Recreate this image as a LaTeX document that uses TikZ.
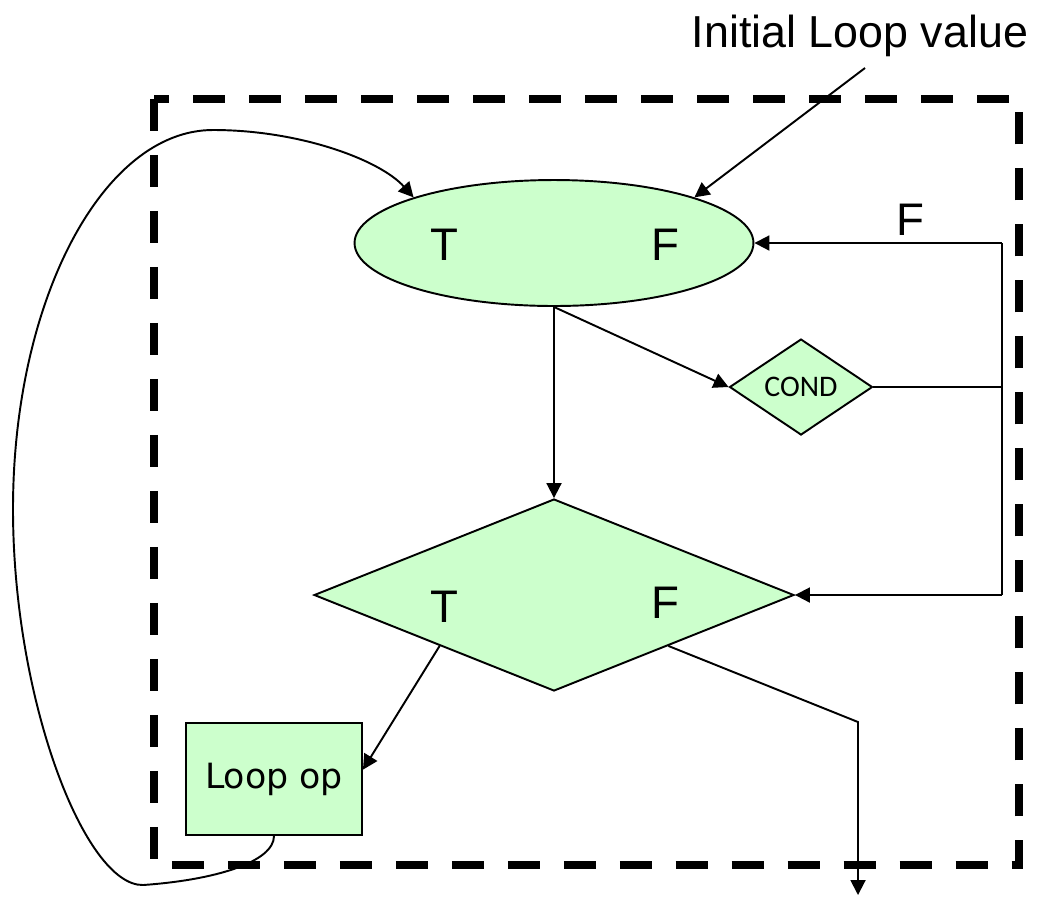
\documentclass[tikz,border=0pt]{standalone}
\usepackage{fontspec}
\setmainfont{Liberation Sans}
\newfontfamily\condfont{Carlito}
\newfontfamily\opfont{DejaVu Sans}
\usetikzlibrary{shapes.geometric,arrows.meta}
\definecolor{lightgreen}{HTML}{CCFFCC}
\tikzset{
	shapebox/.style={draw=black, line width=1.1pt, fill=lightgreen, inner sep=0pt},
	arr/.style={line width=1.1pt, -{Triangle[length=0.3cm,width=0.3cm]}},
	ln/.style={line width=1.1pt},
	tf/.style={font=\fontsize{26}{30}\selectfont, inner sep=0pt}
}
\begin{document}
\begin{tikzpicture}[x=0.02cm, y=0.02cm]
					
					\useasboundingbox (0,0) rectangle (1050,-897);
					
					\draw[line width=4.3pt, dash pattern=on 0.64cm off 0.48cm] (154,-99) rectangle (1019,-865);
					
					\node[anchor=base, font=\fontsize{25.5}{30}\selectfont, inner sep=0pt] (init) at (860,-47) {Initial Loop value};
					
					\node[shapebox, ellipse, minimum width=7.98cm, minimum height=2.52cm] (head) at (554,-243) {};
					\node[tf] (headT) at (444,-245) {T};
					\node[tf] (headF) at (665,-245) {F};
					
					\node[shapebox, diamond, minimum width=2.86cm, minimum height=1.92cm, font=\condfont\fontsize{17}{20}\selectfont] (cond) at (801,-387) {COND};
					
					\node[shapebox, diamond, minimum width=9.6cm, minimum height=3.84cm] (test) at (554,-595) {};
					\node[tf] (testT) at (444,-607) {T};
					\node[tf] (testF) at (665,-603) {F};
					
					\node[shapebox, rectangle, minimum width=3.52cm, minimum height=2.24cm, font=\opfont\fontsize{19.8}{22}\selectfont] (body) at (274,-779) {Loop op};
					
					\node[tf] (backF) at (910,-220) {F};
					
					\coordinate (jt) at (1002,-243);
					\coordinate (jm) at (1002,-387);
					\coordinate (jb) at (1002,-595);
					\coordinate (bend) at (858,-722);
					\coordinate (out) at (858,-895);
					\coordinate (lp1) at (143,-885);
					\coordinate (lp2) at (13,-509);
					\coordinate (lp3) at (213,-130);
					
					\draw[arr] ([xshift=0.1cm,yshift=-0.42cm]init.base) -- (head.18);
					
					\draw[arr] (head.south) -- (test.north);
					
					\draw[arr] (head.south) -- (cond.west);
					
					\draw[ln] (cond.east) -- (jm);
					
					\draw[ln] (jt) -- (jb);
					
					\draw[arr] (jt) -- (head.east);
					
					\draw[arr] (jb) -- (test.east);
					
					\draw[arr] (test.204) -- (body.6);
					
					\draw[arr] (test.-24) -- (bend) -- (out);
					
					\draw[arr] (body.south) .. controls (274,-862) and (215,-880) .. (lp1)
						.. controls (85,-886) and (13,-700) .. (lp2)
						.. controls (13,-300) and (103,-130) .. (lp3)
						.. controls (300,-130) and (380,-160) .. (head.162);
					
				\end{tikzpicture}
\end{document}
